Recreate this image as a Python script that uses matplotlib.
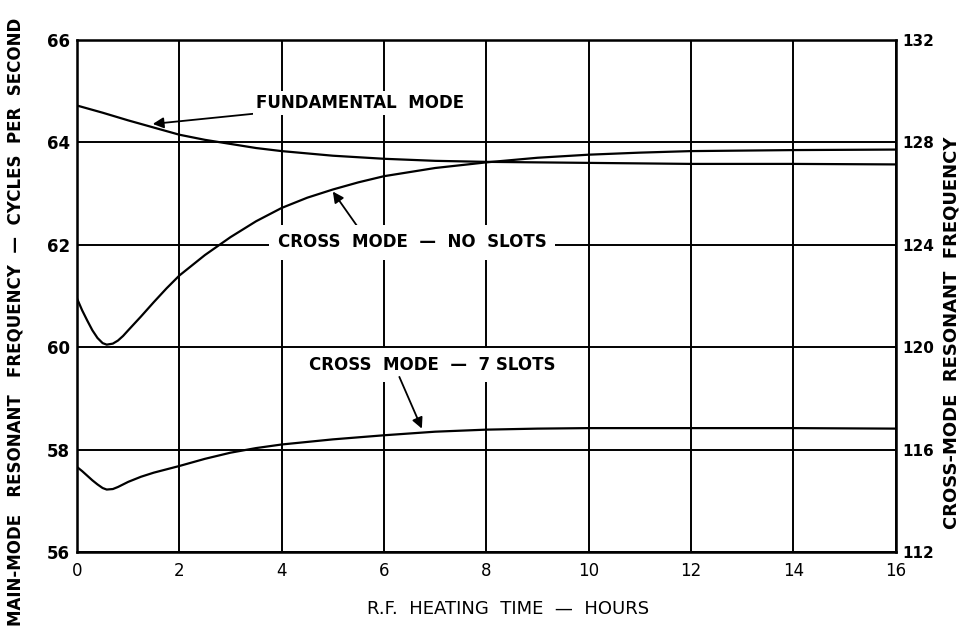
import numpy as np
import matplotlib.pyplot as plt

# heating time (hours) and resonant frequencies (main-mode scale)
fund_x = [0, 0.5, 1, 1.5, 2, 2.5, 3, 3.5, 4, 5, 6, 7, 8, 9, 10, 12, 14, 16]
fund_y = [64.72, 64.58, 64.43, 64.29, 64.15, 64.05, 63.97, 63.89, 63.83, 63.74, 63.68,
          63.64, 63.62, 63.61, 63.60, 63.58, 63.58, 63.57]

noslot_x = [0, 0.1, 0.2, 0.3, 0.4, 0.5, 0.58, 0.7, 0.8, 0.9, 1.0, 1.25, 1.5, 1.75, 2,
            2.5, 3, 3.5, 4, 4.5, 5, 5.5, 6, 7, 8, 9, 10, 11, 12, 14, 16]
noslot_y = [60.95, 60.72, 60.52, 60.33, 60.18, 60.08, 60.05, 60.07, 60.13, 60.22, 60.33,
            60.6, 60.88, 61.15, 61.4, 61.8, 62.15, 62.46, 62.72, 62.92, 63.08, 63.22,
            63.34, 63.5, 63.61, 63.7, 63.76, 63.8, 63.83, 63.85, 63.86]

slot7_x = [0, 0.1, 0.2, 0.3, 0.4, 0.5, 0.58, 0.7, 0.8, 0.9, 1.0, 1.25, 1.5, 2, 2.5, 3,
           3.5, 4, 5, 6, 7, 8, 9, 10, 12, 14, 16]
slot7_y = [57.66, 57.58, 57.49, 57.40, 57.32, 57.25, 57.22, 57.23, 57.27, 57.32, 57.37,
           57.47, 57.55, 57.68, 57.82, 57.94, 58.03, 58.1, 58.2, 58.28, 58.35, 58.39,
           58.41, 58.42, 58.42, 58.42, 58.41]

x_ticks = [0, 2, 4, 6, 8, 10, 12, 14, 16]
left_ticks = [56, 58, 60, 62, 64, 66]
right_ticks = [112, 116, 120, 124, 128, 132]

fig = plt.figure(figsize=(9.63, 6.43), dpi=100)
ax = fig.add_axes([0.080, 0.1415, 0.850, 0.7963])

ax.set_xlim(0, 16)
ax.set_ylim(56, 66)
ax.set_xticks(x_ticks)
ax.set_yticks(left_ticks)
ax.grid(True, color='black', linewidth=1.4)
ax.set_axisbelow(True)
for s in ax.spines.values():
    s.set_linewidth(1.8)
ax.tick_params(length=0, labelsize=12, pad=7)
ax.tick_params(axis='y', pad=5)
for lab in ax.get_yticklabels():
    lab.set_fontweight('bold')

ax2 = ax.twinx()
ax2.set_ylim(112, 132)
ax2.set_yticks(right_ticks)
ax2.tick_params(length=0, labelsize=11, pad=5)
for lab in ax2.get_yticklabels():
    lab.set_fontweight('bold')

ax.plot(fund_x, fund_y, color='black', linewidth=1.6, zorder=3)
ax.plot(noslot_x, noslot_y, color='black', linewidth=1.6, zorder=3)
ax.plot(slot7_x, slot7_y, color='black', linewidth=1.6, zorder=3)

box = dict(facecolor='white', edgecolor='none', pad=2)
arrow = dict(arrowstyle='-|>', color='black', lw=1.3, mutation_scale=16, shrinkA=0, shrinkB=0)

ax.annotate('FUNDAMENTAL  MODE', xy=(1.48, 64.36), xytext=(3.5, 64.77),
            fontsize=12, fontweight='bold', va='center', ha='left',
            bbox=box, arrowprops=arrow, zorder=4)
ax.annotate('', xy=(5.0, 63.04), xytext=(5.5, 62.33), arrowprops=arrow, zorder=4)
ax.text(6.55, 62.05, 'CROSS  MODE  —  NO  SLOTS', fontsize=12, fontweight='bold',
        ha='center', va='center', bbox=dict(facecolor='white', edgecolor='none', pad=6), zorder=4)
ax.text(6.95, 59.65, 'CROSS  MODE  —  7 SLOTS', fontsize=12, fontweight='bold',
        ha='center', va='center', bbox=dict(facecolor='white', edgecolor='none', pad=6), zorder=4)
ax.annotate('', xy=(6.74, 58.41), xytext=(6.3, 59.42), arrowprops=arrow, zorder=4)

fig.text(0.016, 0.5, 'MAIN-MODE   RESONANT   FREQUENCY  —  CYCLES  PER  SECOND',
         rotation=90, ha='center', va='center', fontsize=12, fontweight='bold')
fig.text(0.988, 0.482, 'CROSS-MODE  RESONANT  FREQUENCY', rotation=90,
         ha='center', va='center', fontsize=13, fontweight='bold')
fig.text(0.528, 0.053, 'R.F.  HEATING  TIME  —  HOURS', ha='center', va='center', fontsize=13)

fig.savefig('out.png', dpi=100)
